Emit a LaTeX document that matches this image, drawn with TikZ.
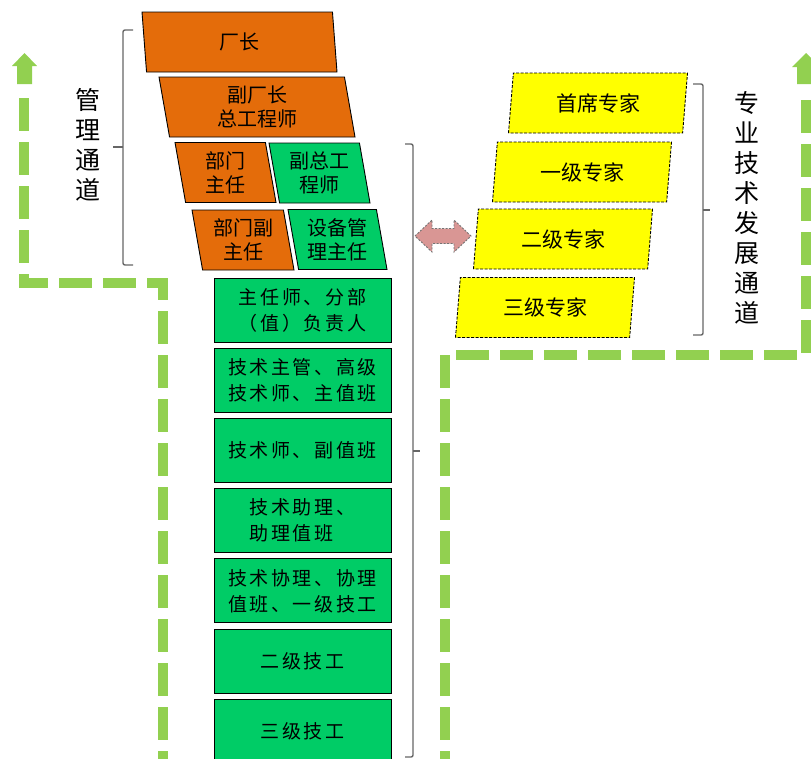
\documentclass[tikz,border=0pt]{standalone}
\usepackage{fontspec}
\setmainfont{Noto Sans CJK SC}
\newfontfamily\cjkwide[LetterSpace=14]{Noto Sans CJK SC}
\usepackage{xcolor}
\usepackage{tikz}
\usetikzlibrary{positioning,shapes.geometric}
\definecolor{mgmtorange}{HTML}{E46C0A}
\definecolor{techgreen}{HTML}{00CC66}
\definecolor{expertyellow}{HTML}{FFFF00}
\definecolor{lanegreen}{HTML}{92D050}
\definecolor{linkpink}{HTML}{D99694}

\begin{document}
\begin{tikzpicture}[
  x=1pt, y=-1pt,
  font=\fontsize{20}{24}\selectfont,
  box/.style={draw=black, line width=0.9pt, align=center, inner sep=0pt},
  slantbox/.style={box, trapezium, trapezium stretches body, minimum height=60pt},
  mgmt/.style={slantbox, trapezium left angle=104, trapezium right angle=76, fill=mgmtorange},
  tech/.style={slantbox, trapezium left angle=104, trapezium right angle=76, fill=techgreen},
  expert/.style={slantbox, trapezium left angle=76, trapezium right angle=104, fill=expertyellow,
    dash pattern=on 3pt off 1.5pt, minimum width=179pt, font=\fontsize{21}{24}\selectfont},
  rung/.style={box, rectangle, fill=techgreen, minimum width=177pt, minimum height=64pt,
    font=\cjkwide\fontsize{19}{26}\selectfont},
  lanedash/.style={draw=lanegreen, line width=10.5pt, dash pattern=on 33pt off 11pt},
  bracket/.style={draw=black!60, line width=1.4pt, rounded corners=2pt},
  chan/.style={align=center, font=\fontsize{25}{30}\selectfont},
]
\useasboundingbox (0,0) rectangle (811,758);

% Career lanes
\draw[lanedash] (24,98) -- (24,283) -- (163,283) -- (163,770);
\fill[lanegreen] (17,84) -- (17,66) -- (12,66) -- (24.5,53) -- (37,66) -- (32,66) -- (32,84) -- cycle;
\draw[lanedash] (806,100) -- (806,355) -- (445,355) -- (445,770);
\fill[lanegreen] (797,84) -- (797,67) -- (792,67) -- (806,53) -- (820,67) -- (815,67) -- (815,84) -- cycle;

% Management ladder
\node[mgmt, minimum width=195pt] (chief) at (239.5,42) {厂长};
\node[mgmt, minimum width=196pt] (deputy) at (257,107) {副厂长\\总工程师};
\node[mgmt, minimum width=101pt] (dept) at (225.5,172.5) {部门\\主任};
\node[tech, minimum width=101pt] (depeng) at (319.5,173) {副总工\\程师};
\node[mgmt, minimum width=102pt] (deptdep) at (243,240) {部门副\\主任};
\node[tech, minimum width=99pt] (equip) at (337.5,239.5) {设备管\\理主任};

% Technical ladder
\node[rung] (r1) at (302.5,310) {主任师、分部\\（值）负责人};
\node[rung, below=5.3pt of r1] (r2) {技术主管、高级\\技术师、主值班};
\node[rung, below=5.3pt of r2] (r3) {技术师、副值班};
\node[rung, below=5.3pt of r3, align=left] (r4) {技术助理、\\助理值班};
\node[rung, below=5.3pt of r4] (r5) {技术协理、协理\\值班、一级技工};
\node[rung, below=5.3pt of r5] (r6) {二级技工};
\node[rung, below=5.3pt of r6] (r7) {三级技工};

% Expert ladder
\node[expert] (e1) at (598,103) {首席专家};
\node[expert] (e2) at (582,172) {一级专家};
\node[expert] (e3) at (563,239) {二级专家};
\node[expert] (e4) at (545,307.5) {三级专家};

% Link between ladders
\draw[fill=linkpink, draw=black!55, line width=0.9pt, dash pattern=on 2pt off 1.5pt]
  (415,236) -- (432,220) -- (432,228.5) -- (454,228.5) -- (454,220) -- (471,236)
  -- (454,252) -- (454,243.5) -- (432,243.5) -- (432,252) -- cycle;

% Brackets
\draw[bracket] (133,30) -- (123,30) -- (123,265) -- (133,265);
\draw[bracket] (123,147) -- (113,147);
\draw[bracket] (405,144) -- (413,144) -- (413,757) -- (405,757);
\draw[bracket] (413,451) -- (420,451);
\draw[bracket] (693,84) -- (703,84) -- (703,335) -- (693,335);
\draw[bracket] (703,210) -- (710,210);

% Channel labels
\node[chan] (mgmtlabel) at (88,145) {管\\理\\通\\道};
\node[chan] (techlabel) at (747,207.5) {专\\业\\技\\术\\发\\展\\通\\道};

\end{tikzpicture}
\end{document}
